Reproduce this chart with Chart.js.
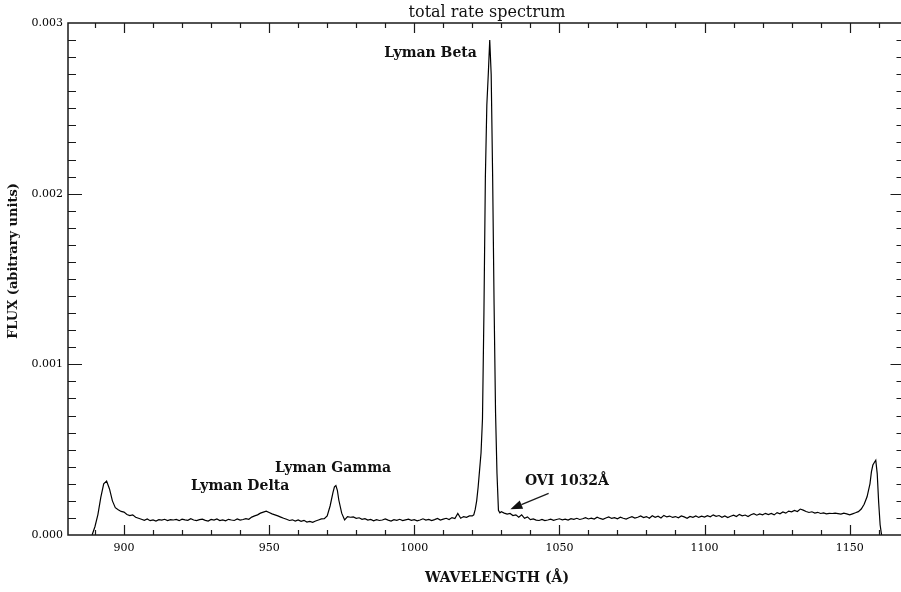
<!DOCTYPE html>
<html>
<head>
<meta charset="utf-8">
<title>total rate spectrum</title>
<script src="https://cdn.jsdelivr.net/npm/chart.js@4.4.1/dist/chart.umd.min.js"></script>
<style>
  html, body { margin: 0; padding: 0; background: #fff; overflow: hidden; }
  #wrap { width: 906px; height: 592px; }
</style>
</head>
<body>
<div id="wrap"><canvas id="spectrum" width="906" height="592"></canvas></div>
<script>
// Data (wavelength in Angstrom, flux in arbitrary units)
const wavelength = [
  889, 890, 891, 892, 893, 894, 895, 896, 897, 898,
  899, 900, 901, 902, 903, 904, 905, 906, 907, 908,
  909, 910, 911, 912, 913, 914, 915, 916, 917, 918,
  919, 920, 921, 922, 923, 924, 925, 926, 927, 928,
  929, 930, 931, 932, 933, 934, 935, 936, 937, 938,
  939, 940, 941, 942, 943, 944, 945, 946, 947, 948,
  949, 950, 951, 952, 953, 954, 955, 956, 957, 958,
  959, 960, 961, 962, 963, 964, 965, 966, 967, 968,
  969, 970, 971, 972, 972.5, 973, 973.5, 974, 975, 976,
  977, 978, 979, 980, 981, 982, 983, 984, 985, 986,
  987, 988, 989, 990, 991, 992, 993, 994, 995, 996,
  997, 998, 999, 1000, 1001, 1002, 1003, 1004, 1005, 1006,
  1007, 1008, 1009, 1010, 1011, 1012, 1013, 1014, 1015, 1016,
  1017, 1018, 1019, 1020, 1020.5, 1021, 1021.5, 1022, 1022.5, 1023,
  1023.5, 1024, 1024.5, 1025, 1025.5, 1026, 1026.5, 1027, 1027.5, 1028,
  1028.5, 1029, 1029.5, 1030, 1031, 1032, 1033, 1034, 1035, 1036,
  1037, 1038, 1039, 1040, 1041, 1042, 1043, 1044, 1045, 1046,
  1047, 1048, 1049, 1050, 1051, 1052, 1053, 1054, 1055, 1056,
  1057, 1058, 1059, 1060, 1061, 1062, 1063, 1064, 1065, 1066,
  1067, 1068, 1069, 1070, 1071, 1072, 1073, 1074, 1075, 1076,
  1077, 1078, 1079, 1080, 1081, 1082, 1083, 1084, 1085, 1086,
  1087, 1088, 1089, 1090, 1091, 1092, 1093, 1094, 1095, 1096,
  1097, 1098, 1099, 1100, 1101, 1102, 1103, 1104, 1105, 1106,
  1107, 1108, 1109, 1110, 1111, 1112, 1113, 1114, 1115, 1116,
  1117, 1118, 1119, 1120, 1121, 1122, 1123, 1124, 1125, 1126,
  1127, 1128, 1129, 1130, 1131, 1132, 1133, 1134, 1135, 1136,
  1137, 1138, 1139, 1140, 1141, 1142, 1143, 1144, 1145, 1146,
  1147, 1148, 1149, 1150, 1151, 1152, 1153, 1154, 1155, 1156,
  1157, 1157.5, 1158, 1158.5, 1159, 1159.5, 1160, 1160.5, 1161
];

const flux = [
  0, 0.00005, 0.00012, 0.00022, 0.0003, 0.000316, 0.00027, 0.0002, 0.00016, 0.000148,
  0.000138, 0.000134, 0.00012, 0.000114, 0.000118, 0.000104, 0.000098, 0.000092, 0.000086, 0.000094,
  0.000084, 0.000088, 0.000082, 0.00009, 0.000087, 0.000092, 0.000085, 0.00009, 0.000088, 0.000091,
  0.000084, 0.000093, 0.000089, 0.000086, 0.000095, 0.000088, 0.000084, 0.00009, 0.000093, 0.000086,
  0.000082, 0.000091, 0.000087, 0.000094, 0.000085, 0.000089, 0.000083, 0.000092, 0.000088, 0.000085,
  0.000094, 0.000087, 0.000091, 0.000096, 0.000092, 0.000105, 0.000112, 0.000118, 0.000128, 0.000134,
  0.00014, 0.000132, 0.000124, 0.000118, 0.000112, 0.000105, 0.000098, 0.000092, 0.000085, 0.000089,
  0.000082, 0.000088, 0.00008, 0.000086, 0.000076, 0.00008, 0.000074, 0.000082, 0.000088, 0.000094,
  0.000096, 0.000112, 0.00017, 0.00025, 0.000282, 0.00029, 0.000262, 0.000205, 0.000128, 0.000088,
  0.000108, 0.000104, 0.000106, 0.000098, 0.000101, 0.000092, 0.000096, 0.000087, 0.000091, 0.000083,
  0.00009, 0.000085, 0.000088, 0.000094, 0.000087, 0.000082, 0.00009, 0.000086, 0.000092, 0.000084,
  0.000089, 0.000093, 0.000086, 0.00009, 0.000083, 0.000088, 0.000095, 0.000087, 0.000091, 0.000084,
  0.00009, 0.000097, 0.000088, 0.000093, 0.000098, 0.000091, 0.000102, 0.000096, 0.000126, 0.000098,
  0.000108, 0.000104, 0.000112, 0.000112, 0.000118, 0.00015, 0.0002, 0.00028, 0.00038, 0.00048,
  0.00068, 0.0013, 0.0021, 0.00252, 0.0027, 0.0029, 0.0027, 0.0021, 0.00135, 0.00072,
  0.00036, 0.000145, 0.00013, 0.000136, 0.000128, 0.000122, 0.000126, 0.000114, 0.000118, 0.000104,
  0.000118, 0.000098, 0.000106, 0.00009, 0.000094, 0.000087, 0.000085, 0.000091, 0.000084, 0.000088,
  0.000093, 0.000086, 0.000091, 0.000095, 0.000089, 0.000093, 0.000087, 0.000096, 0.000092, 0.000098,
  0.000091, 0.000095, 0.000102, 0.000094, 0.000099, 0.000093, 0.000104, 0.000097, 0.000092, 0.0001,
  0.000106, 0.000097, 0.000102, 0.000095, 0.000104, 0.000098, 0.000093, 0.000101, 0.000107, 0.000099,
  0.000104, 0.000112, 0.000102, 0.000108, 0.000098, 0.000113, 0.000104, 0.00011, 0.0001, 0.000115,
  0.000106, 0.000111, 0.000103, 0.000108, 0.000101, 0.000112, 0.000106, 0.000098, 0.000109, 0.000104,
  0.000112, 0.000103, 0.00011, 0.000105, 0.000113, 0.000107, 0.000118, 0.000109, 0.000114, 0.000104,
  0.000112, 0.000102, 0.00011, 0.000116, 0.000108, 0.000121, 0.000112, 0.000117, 0.000108, 0.000119,
  0.000125, 0.000116, 0.000124, 0.000118, 0.000127, 0.00012, 0.000126, 0.000118, 0.000131, 0.000124,
  0.000135, 0.000128, 0.00014, 0.000136, 0.000144, 0.000138, 0.000152, 0.000146, 0.000138, 0.000132,
  0.000136, 0.000128, 0.000133, 0.000126, 0.000129, 0.000124, 0.000127, 0.000126, 0.000128, 0.000125,
  0.000122, 0.000128, 0.000124, 0.000118, 0.000124, 0.00013, 0.000137, 0.000152, 0.00018, 0.000224,
  0.0003, 0.00037, 0.00041, 0.000425, 0.000438, 0.00036, 0.00019, 0.00006, 0
];

// Labels placed in data coordinates
const lineLabels = ['Lyman Beta', 'Lyman Gamma', 'Lyman Delta', 'OVI 1032\u00C5'];
const labelAt = [[1005.6, 0.002824], [972.0, 0.000393], [940.0, 0.000283], [1052.6, 0.000312]];
const arrowFrom = [1046.3, 0.000244];
const arrowTo = [1033.1, 0.000151];

const points = wavelength.map((w, i) => ({ x: w, y: flux[i] }));

// frame with inward ticks on all four sides, plus titles and line labels
const idlFrame = {
  id: 'idlFrame',
  afterDatasetsDraw(chart) {
    const { ctx, chartArea: a, scales: { x, y } } = chart;
    ctx.save();
    ctx.strokeStyle = '#1a1a1a';
    ctx.lineWidth = 1.5;
    ctx.strokeRect(a.left, a.top, a.right - a.left, a.bottom - a.top);

    ctx.lineWidth = 1.2;
    ctx.beginPath();
    for (let w = 890; w <= 1160; w += 10) {
      const px = Math.round(x.getPixelForValue(w)) + 0.5;
      const len = w % 50 === 0 ? 10 : 5;
      ctx.moveTo(px, a.bottom); ctx.lineTo(px, a.bottom - len);
      ctx.moveTo(px, a.top); ctx.lineTo(px, a.top + len);
    }
    for (let k = 1; k < 30; k++) {
      const py = Math.round(y.getPixelForValue(k / 10000)) + 0.5;
      const len = k % 10 === 0 ? 14 : 8;
      ctx.moveTo(a.left, py); ctx.lineTo(a.left + len, py);
      ctx.moveTo(a.right, py); ctx.lineTo(a.right - len, py);
    }
    ctx.stroke();

    ctx.fillStyle = '#111';
    ctx.textAlign = 'center';
    ctx.textBaseline = 'middle';

    ctx.font = '16px "DejaVu Serif"';
    ctx.fillText('total rate spectrum', 487, 12.5);

    ctx.font = 'bold 14px "DejaVu Serif"';
    ctx.fillText('WAVELENGTH (\u00C5)', 497, 578);

    ctx.save();
    ctx.translate(14, 261);
    ctx.rotate(-Math.PI / 2);
    ctx.font = 'bold 13px "DejaVu Serif"';
    ctx.fillText('FLUX (abitrary units)', 0, 0);
    ctx.restore();

    ctx.font = 'bold 14px "DejaVu Serif"';
    lineLabels.forEach((t, i) => {
      ctx.fillText(t, x.getPixelForValue(labelAt[i][0]), y.getPixelForValue(labelAt[i][1]));
    });

    // arrow to OVI
    const x1 = x.getPixelForValue(arrowFrom[0]), y1 = y.getPixelForValue(arrowFrom[1]);
    const x2 = x.getPixelForValue(arrowTo[0]), y2 = y.getPixelForValue(arrowTo[1]);
    const ang = Math.atan2(y2 - y1, x2 - x1);
    const head = 12, half = 4.5;
    const bx = x2 - head * Math.cos(ang), by = y2 - head * Math.sin(ang);
    ctx.lineWidth = 1.2;
    ctx.beginPath();
    ctx.moveTo(x1, y1); ctx.lineTo(bx, by);
    ctx.stroke();
    ctx.beginPath();
    ctx.moveTo(x2, y2);
    ctx.lineTo(bx + half * Math.sin(ang), by - half * Math.cos(ang));
    ctx.lineTo(bx - half * Math.sin(ang), by + half * Math.cos(ang));
    ctx.closePath();
    ctx.fill();
    ctx.restore();
  }
};

new Chart(document.getElementById('spectrum'), {
  type: 'line',
  data: {
    datasets: [{
      data: points,
      borderColor: '#000',
      borderWidth: 1.2,
      pointRadius: 0,
      tension: 0,
      fill: false
    }]
  },
  options: {
    responsive: false,
    animation: false,
    devicePixelRatio: 1,
    layout: { padding: { top: 23, right: 1.5, left: 0, bottom: 0 } },
    plugins: {
      legend: { display: false },
      tooltip: { enabled: false },
      title: { display: false }
    },
    scales: {
      x: {
        type: 'linear',
        min: 880.7,
        max: 1168.9,
        grid: { display: false, drawTicks: false },
        border: { display: false },
        ticks: {
          stepSize: 50,
          includeBounds: false,
          maxRotation: 0,
          padding: 7,
          color: '#000',
          font: { family: 'DejaVu Serif', size: 11 },
          callback: v => String(v)
        },
        afterFit: s => { s.height = 57; }
      },
      y: {
        min: 0,
        max: 0.003,
        grid: { display: false, drawTicks: false },
        border: { display: false },
        ticks: {
          stepSize: 0.001,
          padding: 5,
          color: '#000',
          font: { family: 'DejaVu Serif', size: 11 },
          callback: v => v.toFixed(3)
        },
        afterFit: s => { s.width = 68; }
      }
    }
  },
  plugins: [idlFrame]
});
</script>
</body>
</html>
